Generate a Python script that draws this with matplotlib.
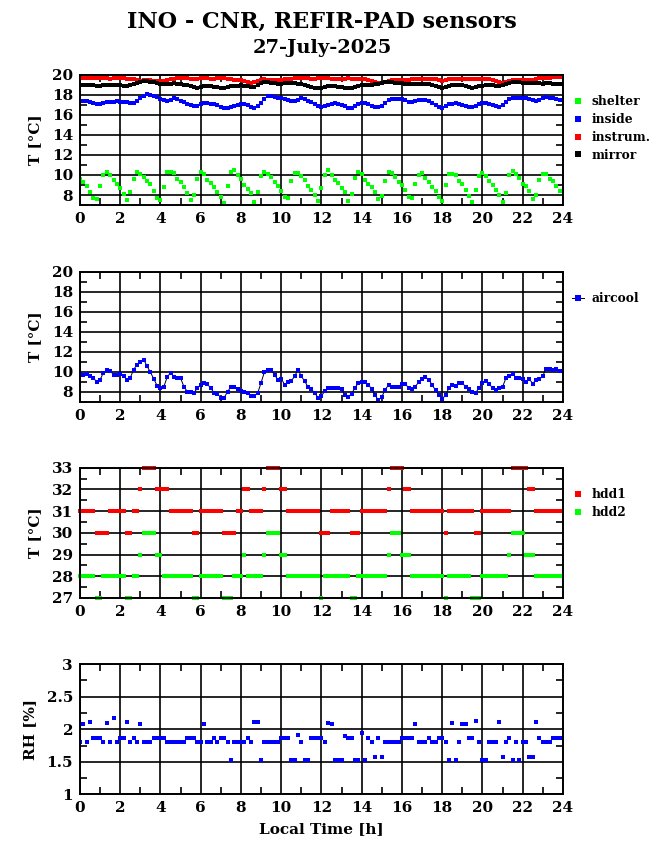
import numpy as np
import matplotlib.pyplot as plt
from matplotlib.ticker import MultipleLocator

# 10-minute samples over the day
hours = np.arange(144) / 6.0

# panel 1: temperatures [C]
shelter = [9.6, 9.3, 8.9, 8.3, 7.7, 7.6, 8.9, 10.0, 10.3, 10.0, 9.5, 9.1,
           8.7, 8.1, 7.5, 8.3, 9.6, 10.3, 10.1, 9.8, 9.4, 9.1, 8.4, 7.7,
           7.5, 8.8, 10.3, 10.3, 10.2, 9.6, 9.3, 8.8, 8.2, 7.5, 8.0, 9.6,
           10.3, 10.1, 9.5, 9.2, 8.8, 8.3, 7.8, 7.2, 8.9, 10.3, 10.5, 10.0,
           9.6, 9.0, 8.6, 8.2, 7.3, 8.3, 9.9, 10.3, 10.1, 9.8, 9.3, 8.9,
           8.4, 7.8, 7.7, 9.4, 10.2, 10.2, 9.9, 9.5, 8.9, 8.5, 8.0, 7.4,
           8.7, 10.0, 10.5, 10.0, 9.5, 9.2, 8.7, 8.3, 7.4, 8.1, 9.7, 10.3,
           10.1, 9.5, 9.1, 8.8, 8.3, 7.6, 7.9, 9.4, 10.3, 10.2, 9.8, 9.3,
           9.0, 8.5, 7.8, 7.7, 9.1, 10.0, 10.2, 9.7, 9.3, 8.8, 8.4, 7.8,
           7.4, 9.0, 10.1, 10.1, 10.0, 9.4, 9.1, 8.5, 7.9, 7.3, 8.5, 9.9,
           10.2, 9.9, 9.4, 9.0, 8.5, 8.0, 7.3, 8.2, 10.0, 10.4, 10.1, 9.7,
           9.1, 8.9, 8.4, 7.6, 8.0, 9.5, 10.1, 10.1, 9.6, 9.4, 8.9, 8.4]

inside = [17.4, 17.4, 17.4, 17.3, 17.2, 17.1, 17.1, 17.2, 17.3, 17.3, 17.3, 17.4,
          17.3, 17.3, 17.3, 17.2, 17.2, 17.4, 17.7, 17.9, 18.1, 18.0, 17.9, 17.8,
          17.6, 17.5, 17.4, 17.5, 17.7, 17.6, 17.4, 17.3, 17.1, 17.0, 16.9, 16.9,
          17.1, 17.2, 17.2, 17.1, 17.1, 17.0, 16.8, 16.7, 16.7, 16.8, 16.9, 17.0,
          17.1, 17.1, 17.0, 16.8, 16.7, 16.9, 17.2, 17.6, 17.9, 17.9, 17.8, 17.7,
          17.7, 17.6, 17.5, 17.4, 17.4, 17.5, 17.7, 17.6, 17.4, 17.3, 17.1, 16.9,
          16.8, 16.9, 17.0, 17.1, 17.2, 17.1, 17.0, 16.9, 16.7, 16.7, 16.9, 17.1,
          17.2, 17.2, 17.1, 16.9, 16.8, 16.8, 16.9, 17.2, 17.5, 17.6, 17.6, 17.6,
          17.6, 17.5, 17.3, 17.3, 17.4, 17.5, 17.5, 17.5, 17.4, 17.2, 17.0, 16.8,
          16.7, 16.9, 17.1, 17.1, 17.2, 17.1, 17.0, 16.9, 16.8, 16.8, 16.9, 17.1,
          17.2, 17.2, 17.1, 17.0, 16.9, 16.8, 17.0, 17.3, 17.6, 17.7, 17.7, 17.7,
          17.7, 17.7, 17.6, 17.5, 17.4, 17.5, 17.7, 17.8, 17.7, 17.7, 17.6, 17.5]

instrum = [19.7, 19.7, 19.7, 19.7, 19.7, 19.7, 19.7, 19.7, 19.7, 19.6, 19.7, 19.7,
           19.7, 19.7, 19.6, 19.6, 19.6, 19.5, 19.4, 19.5, 19.5, 19.5, 19.4, 19.4,
           19.4, 19.4, 19.5, 19.6, 19.6, 19.7, 19.7, 19.7, 19.7, 19.6, 19.6, 19.6,
           19.7, 19.7, 19.7, 19.6, 19.6, 19.7, 19.7, 19.7, 19.6, 19.6, 19.5, 19.5,
           19.5, 19.4, 19.3, 19.2, 19.3, 19.4, 19.5, 19.6, 19.5, 19.5, 19.5, 19.5,
           19.5, 19.6, 19.6, 19.6, 19.7, 19.7, 19.7, 19.7, 19.7, 19.6, 19.6, 19.7,
           19.7, 19.7, 19.7, 19.6, 19.6, 19.6, 19.6, 19.6, 19.7, 19.6, 19.6, 19.6,
           19.6, 19.6, 19.5, 19.4, 19.3, 19.2, 19.2, 19.3, 19.4, 19.5, 19.5, 19.5,
           19.5, 19.5, 19.5, 19.6, 19.6, 19.6, 19.6, 19.6, 19.6, 19.6, 19.6, 19.5,
           19.4, 19.5, 19.6, 19.6, 19.6, 19.6, 19.6, 19.6, 19.6, 19.6, 19.6, 19.6,
           19.6, 19.6, 19.6, 19.5, 19.4, 19.3, 19.2, 19.3, 19.4, 19.5, 19.5, 19.5,
           19.5, 19.5, 19.5, 19.5, 19.6, 19.7, 19.7, 19.7, 19.7, 19.8, 19.8, 19.8]

mirror = [19.0, 19.0, 19.0, 19.0, 19.0, 18.9, 18.9, 19.0, 19.0, 19.0, 19.0, 19.0,
          19.0, 18.9, 18.9, 19.0, 19.1, 19.2, 19.3, 19.4, 19.4, 19.3, 19.3, 19.2,
          19.1, 19.1, 19.1, 19.1, 19.2, 19.1, 19.1, 19.0, 19.0, 18.9, 18.8, 18.7,
          18.8, 18.9, 18.9, 18.9, 18.8, 18.8, 18.7, 18.7, 18.8, 18.9, 18.9, 18.9,
          19.0, 18.9, 18.9, 18.8, 18.8, 19.0, 19.2, 19.3, 19.3, 19.2, 19.2, 19.1,
          19.1, 19.2, 19.2, 19.2, 19.2, 19.1, 19.1, 19.0, 18.9, 18.8, 18.7, 18.7,
          18.7, 18.8, 18.9, 18.9, 18.9, 18.8, 18.8, 18.7, 18.7, 18.7, 18.8, 18.9,
          19.0, 19.0, 19.0, 19.0, 19.1, 19.1, 19.2, 19.3, 19.3, 19.3, 19.2, 19.2,
          19.2, 19.1, 19.1, 19.1, 19.1, 19.1, 19.1, 19.1, 19.1, 19.0, 18.9, 18.8,
          18.7, 18.8, 18.9, 19.0, 19.0, 19.0, 19.0, 18.9, 18.8, 18.7, 18.8, 18.9,
          18.9, 19.0, 19.0, 19.0, 18.9, 18.9, 19.0, 19.1, 19.2, 19.3, 19.3, 19.3,
          19.2, 19.2, 19.2, 19.2, 19.2, 19.2, 19.1, 19.2, 19.2, 19.1, 19.1, 19.1]

# panel 2: air cooler temperature [C]
aircool = [9.83, 9.73, 9.77, 9.6, 9.37, 9.03, 9.23, 9.93, 10.17, 10.1, 9.73, 9.73,
           9.83, 9.57, 9.23, 9.43, 10.23, 10.73, 11.03, 11.23, 10.57, 9.97, 9.3, 8.63,
           8.43, 8.53, 9.47, 9.93, 9.53, 9.4, 9.37, 8.53, 8.03, 8.0, 7.93, 8.37,
           8.73, 8.87, 8.77, 8.37, 7.9, 7.8, 7.43, 7.43, 8.03, 8.53, 8.53, 8.3,
           8.07, 8.0, 7.87, 7.63, 7.6, 7.9, 8.93, 10.0, 10.2, 10.2, 9.7, 9.23,
           9.33, 8.73, 9.03, 9.1, 9.57, 10.23, 9.57, 9.07, 8.5, 8.27, 7.87, 7.43,
           7.63, 8.07, 8.37, 8.43, 8.43, 8.4, 8.27, 7.67, 7.5, 7.83, 8.43, 8.9,
           9.03, 8.97, 8.67, 8.33, 7.67, 7.17, 7.53, 8.23, 8.7, 8.5, 8.5, 8.5,
           8.83, 8.83, 8.37, 8.3, 8.53, 9.0, 9.33, 9.47, 9.23, 8.7, 8.17, 7.7,
           7.33, 7.67, 8.4, 8.73, 8.6, 8.87, 8.87, 8.53, 8.33, 8.03, 7.93, 8.43,
           8.9, 9.07, 8.8, 8.4, 8.2, 8.37, 8.53, 9.37, 9.6, 9.83, 9.43, 9.4,
           9.27, 9.03, 9.27, 8.83, 9.23, 9.27, 9.63, 10.33, 10.27, 10.2, 10.27, 10.1]

# panel 3: disk temperatures [C]
hdd1 = ([31] * 5 + [30] * 4 + [31] * 5 + [30] * 2 + [31] * 2 + [32] + [33] * 4
        + [32] * 4 + [31] * 7 + [30] * 2 + [31] * 7 + [30] * 4 + [31] * 2
        + [32] * 2 + [31] * 4 + [32] + [33] * 4 + [32] * 2 + [31] * 10
        + [30] * 3 + [31] * 6 + [30] * 3 + [31] * 8 + [32] + [33] * 4
        + [32] * 2 + [31] * 10 + [30] + [31] * 8 + [30] * 2 + [31] * 9
        + [33] * 5 + [32] * 2 + [31] * 8)
hdd2 = ([28] * 5 + [27] * 2 + [28] * 7 + [27] * 2 + [28] * 2 + [29] + [30] * 4
        + [29] * 2 + [28] * 9 + [27] * 2 + [28] * 7 + [27] * 3 + [28] * 3
        + [29] + [28] * 5 + [29] + [30] * 4 + [29] * 2 + [28] * 10 + [27]
        + [28] * 8 + [27] * 2 + [28] * 9 + [29] + [30] * 3 + [29] * 3
        + [28] * 10 + [27] + [28] * 7 + [27] * 3 + [28] * 8 + [29] + [30] * 4
        + [29] * 3 + [28] * 8)

# panel 4: relative humidity [%]
rh = [1.81, 2.08, 1.81, 2.12, 1.86, 1.86, 1.86, 1.81, 2.09, 1.81, 2.18, 1.81,
      1.86, 1.86, 2.12, 1.81, 1.86, 1.81, 2.08, 1.81, 1.81, 1.81, 1.86, 1.86,
      1.86, 1.86, 1.81, 1.81, 1.81, 1.81, 1.81, 1.81, 1.86, 1.86, 1.86, 1.81,
      1.81, 2.08, 1.81, 1.81, 1.86, 1.81, 1.86, 1.86, 1.81, 1.53, 1.81, 1.81,
      1.81, 1.81, 1.86, 1.81, 2.12, 2.12, 1.53, 1.81, 1.81, 1.81, 1.81, 1.81,
      1.86, 1.86, 1.86, 1.53, 1.53, 1.91, 1.81, 1.53, 1.53, 1.86, 1.86, 1.86,
      1.86, 1.81, 2.09, 2.08, 1.53, 1.53, 1.53, 1.90, 1.86, 1.86, 1.53, 1.53,
      1.95, 1.53, 1.86, 1.81, 1.58, 1.86, 1.58, 1.81, 1.81, 1.81, 1.81, 1.81,
      1.86, 1.86, 1.86, 1.86, 2.08, 1.81, 1.81, 1.81, 1.86, 1.81, 1.81, 1.86,
      1.86, 1.81, 1.53, 2.09, 1.53, 1.81, 2.08, 2.08, 1.86, 1.86, 2.13, 1.81,
      1.53, 1.53, 1.81, 1.81, 1.81, 2.12, 1.58, 1.81, 1.86, 1.53, 1.81, 1.53,
      1.81, 1.81, 1.58, 1.58, 2.12, 1.86, 1.81, 1.81, 1.81, 1.86, 1.86, 1.86]

GREEN, BLUE, RED = '#00ff00', '#0000ff', '#ff0000'

plt.rcParams['font.family'] = ['DejaVu Serif']
plt.rcParams['font.weight'] = 'bold'

fig = plt.figure(figsize=(6.55, 8.6), dpi=100)
left, width, height = 0.1221, 0.7374, 0.1515
bottoms = [0.7616, 0.5326, 0.3047, 0.0762]
axes = [fig.add_axes([left, b, width, height]) for b in bottoms]


def style_axis(ax, ylim, ymajor, yminor, ylabel):
    ax.set_xlim(0, 24)
    ax.set_ylim(*ylim)
    ax.xaxis.set_major_locator(MultipleLocator(2))
    ax.xaxis.set_minor_locator(MultipleLocator(1))
    ax.yaxis.set_major_locator(MultipleLocator(ymajor))
    ax.yaxis.set_minor_locator(MultipleLocator(yminor))
    ax.grid(True, which='major', color='black', linewidth=1.2)
    ax.tick_params(which='both', direction='in', top=True, right=True,
                   labelsize=11, pad=5, width=1.2)
    ax.tick_params(which='major', length=0)
    ax.tick_params(which='minor', length=5)
    for sp in ax.spines.values():
        sp.set_linewidth(1.4)
    ax.set_ylabel(ylabel, fontsize=11, fontweight='bold', labelpad=7)
    ax.set_axisbelow(True)


def side_legend(ax, y_anchor):
    ax.legend(loc='upper left', bbox_to_anchor=(1.0, y_anchor), frameon=False,
              fontsize=8.8, handlelength=1.0, handletextpad=0.6,
              labelspacing=0.4, borderaxespad=0.3, markerscale=1.3)


ax1 = axes[0]
ax1.plot(hours, shelter, 's', color=GREEN, ms=3.0, mew=0, label='shelter')
ax1.plot(hours, inside, 's', color=BLUE, ms=3.2, mew=0, label='inside')
ax1.plot(hours, instrum, 's', color=RED, ms=3.2, mew=0, label='instrum.')
ax1.plot(hours, mirror, 's', color='black', ms=3.2, mew=0, label='mirror')
style_axis(ax1, (7, 20), 2, 1, 'T [°C]')
side_legend(ax1, 0.91)

ax2 = axes[1]
ax2.plot(hours, aircool, '-s', color='black', mfc=BLUE, ms=3.3, mew=0,
         lw=0.7, label='aircool')
style_axis(ax2, (7, 20), 2, 1, 'T [°C]')
side_legend(ax2, 0.91)

ax3 = axes[2]
ax3.plot(hours, hdd1, 's', color=RED, ms=3.2, mew=0, label='hdd1',
         clip_on=False)
ax3.plot(hours, hdd2, 's', color=GREEN, ms=3.2, mew=0, label='hdd2',
         clip_on=False)
style_axis(ax3, (27, 33), 1, 0.5, 'T [°C]')
side_legend(ax3, 0.91)

ax4 = axes[3]
ax4.plot(hours, rh, 's', color=BLUE, ms=3.2, mew=0)
style_axis(ax4, (1, 3), 0.5, 0.25, 'RH [%]')
ax4.set_yticks([1, 1.5, 2, 2.5, 3])
ax4.set_yticklabels(['1', '1.5', '2', '2.5', '3'])
ax4.set_xlabel('Local Time [h]', fontsize=11, fontweight='bold', labelpad=5)

fig.text(0.4915, 0.975, 'INO - CNR, REFIR-PAD sensors', ha='center',
         va='center', fontsize=16, fontweight='bold')
fig.text(0.4915, 0.944, '27-July-2025', ha='center', va='center',
         fontsize=14, fontweight='bold')

fig.savefig('out.png', dpi=100)
